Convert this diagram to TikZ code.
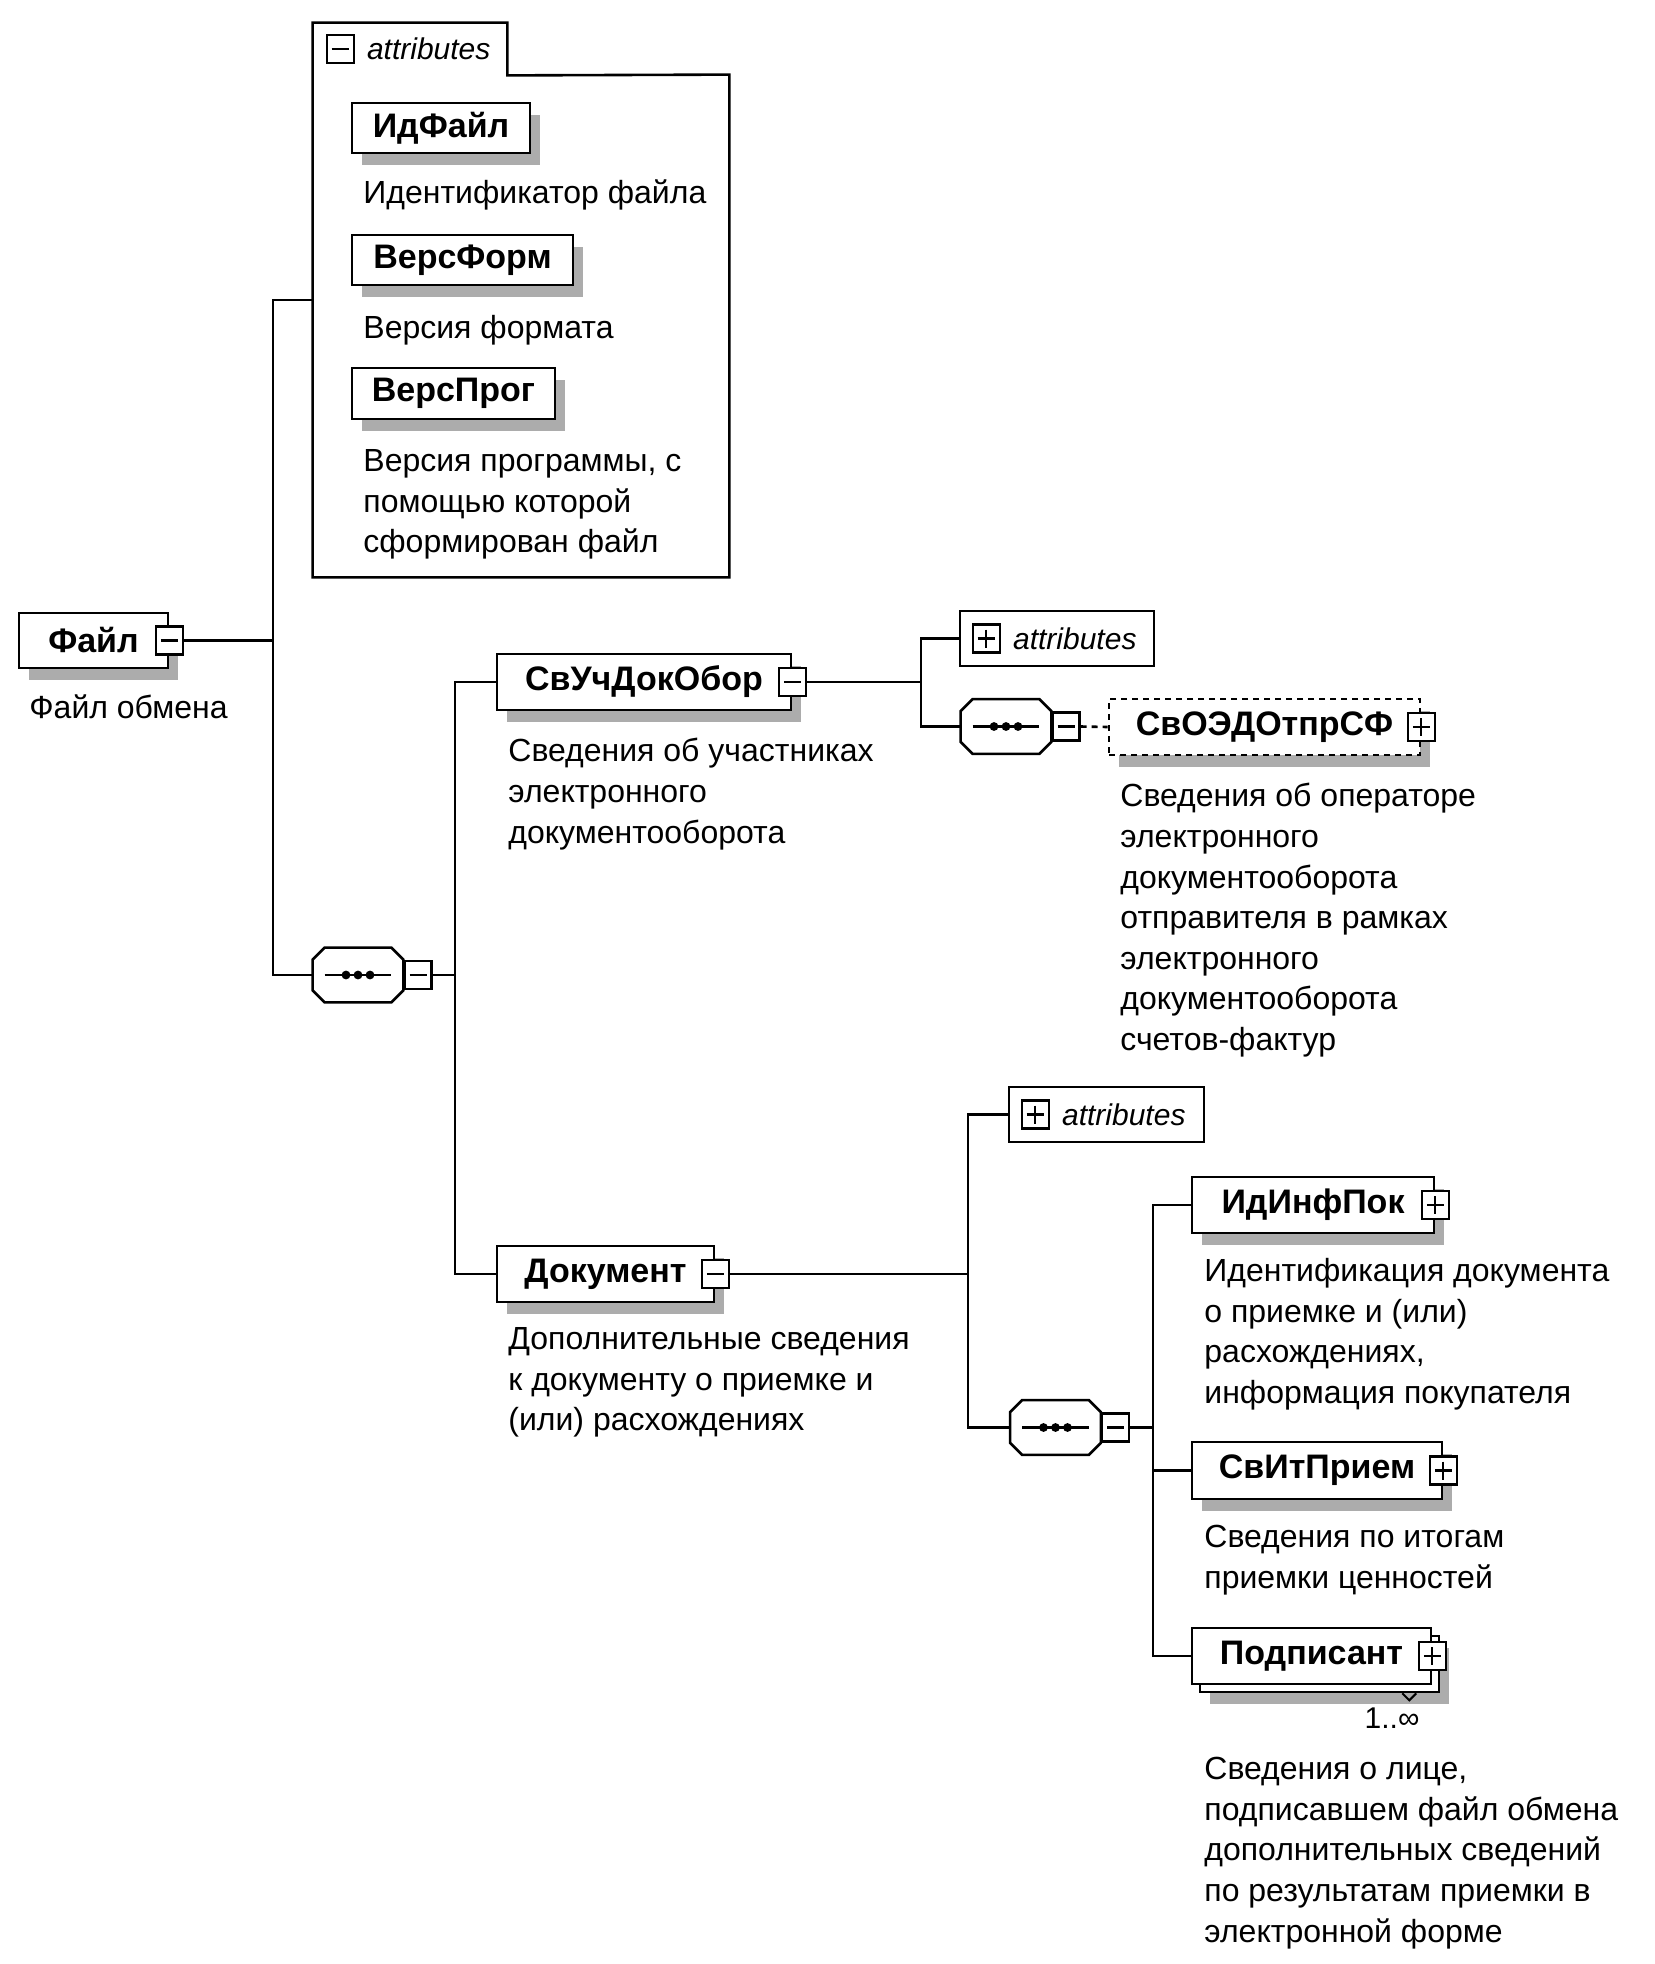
\documentclass[tikz,border=0pt]{standalone}
\usepackage{fontspec}
\setmainfont{Liberation Sans}
\usetikzlibrary{shadows,positioning}

\newcommand\namefont{\fontsize{17}{20}\selectfont\bfseries}
\newcommand\descfont{\fontsize{16}{20.3}\selectfont}
\newcommand\attrfont{\fontsize{15}{18}\selectfont\itshape}
\newcommand\multfont{\fontsize{15}{18}\selectfont}

% octagon of a sequence group, drawn round an empty node
\newcommand\seqdeco[1]{%
  \begin{scope}[xshift=5pt, yshift=-6pt]
    \fill[gray!65] ([xshift=6pt]#1.north west) -- ([xshift=-6pt]#1.north east) -- ([yshift=-6pt]#1.north east)
      -- ([yshift=6pt]#1.south east) -- ([xshift=-6pt]#1.south east) -- ([xshift=6pt]#1.south west)
      -- ([yshift=6pt]#1.south west) -- ([yshift=-6pt]#1.north west) -- cycle;
  \end{scope}
  \draw[line width=1.3pt, fill=white] ([xshift=6pt]#1.north west) -- ([xshift=-6pt]#1.north east) -- ([yshift=-6pt]#1.north east)
    -- ([yshift=6pt]#1.south east) -- ([xshift=-6pt]#1.south east) -- ([xshift=6pt]#1.south west)
    -- ([yshift=6pt]#1.south west) -- ([yshift=-6pt]#1.north west) -- cycle;
  \draw[line width=1.1pt] ([xshift=6pt]#1.west) -- ([xshift=-6pt]#1.east);
  \foreach \d in {-6pt,0pt,6pt} \fill ([xshift=\d]#1.center) circle (2.2pt);
}

\tikzset{
  conn/.style={line width=1.3pt},
  elem/.style={draw, fill=white, line width=1.3pt, inner sep=0pt, font=\namefont,
    drop shadow={shadow xshift=5pt, shadow yshift=-6pt, fill=gray!65, opacity=1}},
  flat/.style={draw, fill=white, line width=1.3pt, inner sep=0pt},
  pmbox/.style={draw, fill=white, line width=1.1pt, minimum width=13.5pt, minimum height=14pt, inner sep=0pt},
  minusbox/.style={pmbox, path picture={
    \draw[line width=1.1pt] ([xshift=2.5pt]path picture bounding box.west) -- ([xshift=-2.5pt]path picture bounding box.east);}},
  plusbox/.style={pmbox, path picture={
    \draw[line width=1.1pt] ([xshift=2.5pt]path picture bounding box.west) -- ([xshift=-2.5pt]path picture bounding box.east);
    \draw[line width=1.1pt] ([yshift=-2.5pt]path picture bounding box.north) -- ([yshift=2.5pt]path picture bounding box.south);}},
  seq/.style={inner sep=0pt, minimum width=45pt, minimum height=27pt},
  desc/.style={anchor=north west, align=left, inner sep=0pt, font=\descfont, execute at begin node=\strut},
  attrlabel/.style={font=\attrfont, inner sep=0pt, anchor=west},
}

\begin{document}
\begin{tikzpicture}[x=0.5pt, y=-0.5pt]
\useasboundingbox (0,0) rectangle (1654,1964);

\coordinate (attrAin) at (313,300);
\coordinate (tA) at (273,0);
\coordinate (tB) at (455,0);
\coordinate (tC) at (921,0);
\coordinate (tD) at (968,0);
\coordinate (tE) at (1153,0);

% attributes of the file
\node[inner sep=0pt, minimum width=97pt, minimum height=26pt] (attrAtab) at (410,49) {};
\node[inner sep=0pt, minimum width=208pt, minimum height=251pt] (attrA) at (521,326) {};
\draw[conn] (attrAtab.north west) -- (attrAtab.north east) -- (attrAtab.south east)
  -- (attrA.north east) -- (attrA.south east) -- (attrA.south west) -- cycle;
\node[minusbox] (attrAicon) at ([xshift=13.75pt]attrAtab.west) {};
\node[attrlabel] (attrAtext) at ([xshift=27pt]attrAtab.west) {attributes};

\node[elem, minimum width=89pt, minimum height=25pt] (idfajl) at (441,128) {ИдФайл};
\node[desc] (idfajldesc) at (363,175) {Идентификатор файла};
\node[elem, minimum width=110.5pt, minimum height=25pt] (versform) at (462.5,260) {ВерсФорм};
\node[desc] (versformdesc) at (363,310) {Версия формата};
\node[elem, minimum width=101.5pt, minimum height=25.5pt] (versprog) at (453.5,393.5) {ВерсПрог};
\node[desc] (versprogdesc) at (363,449) {Версия программы, с\\помощью которой\\сформирован файл};

% root
\node[elem, minimum width=74.5pt, minimum height=27.5pt] (fajl) at (93.5,640.5) {Файл};
\node[minusbox] (fajlpm) at (fajl.east) {};
\node[desc] (fajldesc) at (29,690) {Файл обмена};

\node[seq] (seqA) at (358,975) {};
\seqdeco{seqA}
\node[minusbox, anchor=west] (seqApm) at (seqA.east) {};

% participants
\node[elem, minimum width=147pt, minimum height=28pt] (svuch) at (644,682) {СвУчДокОбор};
\node[minusbox] (svuchpm) at (svuch.east) {};
\node[desc] (svuchdesc) at (508,738) {Сведения об участниках\\электронного\\документооборота};

\node[flat, minimum width=97pt, minimum height=27.5pt] (attrB) at (1057,638.5) {};
\node[plusbox] (attrBicon) at ([xshift=13.75pt]attrB.west) {};
\node[attrlabel] (attrBtext) at ([xshift=27pt]attrB.west) {attributes};

\node[seq] (seqB) at (1006,726.5) {};
\seqdeco{seqB}
\node[minusbox, anchor=west] (seqBpm) at (seqB.east) {};

\node[elem, dash pattern=on 3pt off 2.5pt, minimum width=155.5pt, minimum height=28pt] (svoedo) at (1264.5,727) {СвОЭДОтпрСФ};
\node[plusbox] (svoedopm) at (svoedo.east) {};
\node[desc] (svoedodesc) at (1120,783) {Сведения об операторе\\электронного\\документооборота\\отправителя в рамках\\электронного\\документооборота\\счетов-фактур};

% document
\node[elem, minimum width=108.5pt, minimum height=28pt] (dokument) at (605.5,1274) {Документ};
\node[minusbox] (dokumentpm) at (dokument.east) {};
\node[desc] (dokumentdesc) at (508,1327) {Дополнительные сведения\\к документу о приемке и\\(или) расхождениях};

\node[flat, minimum width=97.5pt, minimum height=27.5pt] (attrC) at (1106.5,1114.5) {};
\node[plusbox] (attrCicon) at ([xshift=13.75pt]attrC.west) {};
\node[attrlabel] (attrCtext) at ([xshift=27pt]attrC.west) {attributes};

\node[seq] (seqC) at (1055.5,1427.5) {};
\seqdeco{seqC}
\node[minusbox, anchor=west] (seqCpm) at (seqC.east) {};

\node[elem, minimum width=121pt, minimum height=28pt] (idinf) at (1313,1205) {ИдИнфПок};
\node[plusbox] (idinfpm) at (idinf.east) {};
\node[desc] (idinfdesc) at (1204,1258) {Идентификация документа\\о приемке и (или)\\расхождениях,\\информация покупателя};

\node[elem, minimum width=125pt, minimum height=28.5pt] (svit) at (1317,1470.5) {СвИтПрием};
\node[plusbox] (svitpm) at (svit.east) {};
\node[desc] (svitdesc) at (1204,1525) {Сведения по итогам\\приемки ценностей};

\node[elem, minimum width=119.5pt, minimum height=28pt] (podpback) at (1319.5,1664) {};
\draw[line width=1pt] ([xshift=-19pt]podpback.south east) -- ([xshift=-15.5pt,yshift=-3.5pt]podpback.south east) -- ([xshift=-12pt]podpback.south east);
\node[flat, font=\namefont, minimum width=119.5pt, minimum height=28pt] (podp) at (1311.5,1656) {Подписант};
\node[plusbox] (podppm) at (podp.east) {};
\node[font=\multfont, inner sep=0pt] (podpmult) at (1392,1718) {1..∞};
\node[desc] (podpdesc) at (1204,1757) {Сведения о лице,\\подписавшем файл обмена\\дополнительных сведений\\по результатам приемки в\\электронной форме};

% connectors
\draw[conn] (fajlpm.east) -- (fajlpm.east -| tA);
\draw[conn] (attrAin) -| (tA |- seqA.west) -- (seqA.west);
\draw[conn] (seqApm.east) -- (seqApm.east -| tB);
\draw[conn] (svuch.west) -| (tB |- dokument.west) -- (dokument.west);
\draw[conn] (svuchpm.east) -- (svuchpm.east -| tC);
\draw[conn] (attrB.west) -| (tC |- seqB.west) -- (seqB.west);
\draw[conn, dash pattern=on 3pt off 2.5pt] (seqBpm.east) -- (svoedo.west);
\draw[conn] (dokumentpm.east) -- (dokumentpm.east -| tD);
\draw[conn] (attrC.west) -| (tD |- seqC.west) -- (seqC.west);
\draw[conn] (seqCpm.east) -- (seqCpm.east -| tE);
\draw[conn] (idinf.west) -| (tE |- podp.west) -- (podp.west);
\draw[conn] (svit.west) -- (svit.west -| tE);
\end{tikzpicture}
\end{document}
